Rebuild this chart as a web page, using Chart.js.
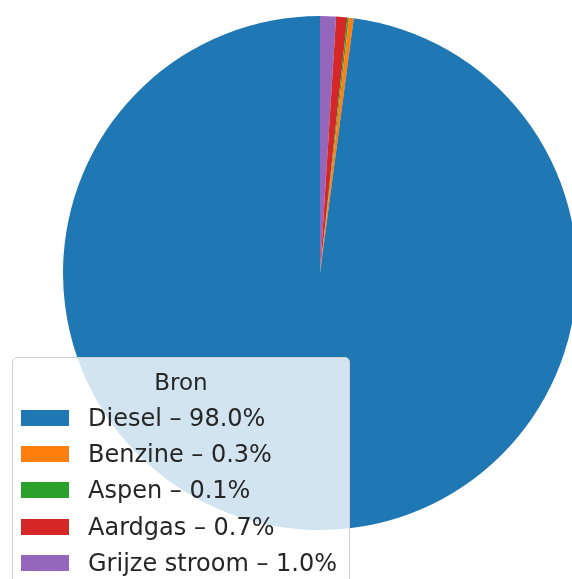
<!DOCTYPE html>
<html><head><meta charset="utf-8">
<script src="https://cdn.jsdelivr.net/npm/chart.js@4/dist/chart.umd.min.js"></script>
<style>
html,body{margin:0;padding:0;background:#fff;overflow:hidden;}
#wrap{position:relative;width:572px;height:579px;}
#c{position:absolute;left:0;top:0;}
#legend{position:absolute;left:12px;top:357px;width:338px;height:240px;background:rgba(255,255,255,0.8);border:1px solid #d0d0d0;border-radius:5px;font-family:"DejaVu Sans",sans-serif;color:#262626;box-sizing:border-box;}
#legend .title{position:absolute;left:0;width:100%;top:10px;height:28px;line-height:28px;text-align:center;font-size:23px;}
#legend .row{position:absolute;left:8px;height:28px;line-height:28px;display:flex;align-items:center;font-size:24px;white-space:nowrap;}
#legend .sw{width:48px;height:16px;margin-right:19px;}
</style></head>
<body><div id="wrap"><canvas id="c" width="572" height="579"></canvas><div id="legend"><div class="title">Bron</div></div></div>
<script>
const categories = ["Diesel", "Benzine", "Aspen", "Aardgas", "Grijze stroom"];
const values = [98.0, 0.3, 0.1, 0.7, 1.0];
const colors = ["#1f77b4", "#ff7f0e", "#2ca02c", "#d62728", "#9467bd"];

// matplotlib draws counter-clockwise from the top; Chart.js clockwise, so reverse order
const revLabels = categories.slice().reverse();
const revValues = values.slice().reverse();
const revColors = colors.slice().reverse();

new Chart(document.getElementById('c'), {
  type: 'pie',
  data: { labels: revLabels, datasets: [{ data: revValues, backgroundColor: revColors, borderWidth: 0 }] },
  options: {
    responsive: false, animation: false,
    radius: 257,
    layout: { padding: { left: 68, right: 0, top: 0, bottom: 33 } },
    plugins: { legend: { display: false }, tooltip: { enabled: false } }
  }
});

const lg = document.getElementById('legend');
categories.forEach((name, i) => {
  const row = document.createElement('div');
  row.className = 'row';
  row.style.top = (46 + i * 36.2) + 'px';
  const sw = document.createElement('div');
  sw.className = 'sw'; sw.style.background = colors[i];
  const t = document.createElement('span');
  t.textContent = name + ' \u2013 ' + values[i].toFixed(1) + '%';
  row.appendChild(sw); row.appendChild(t);
  lg.appendChild(row);
});
</script></body></html>
